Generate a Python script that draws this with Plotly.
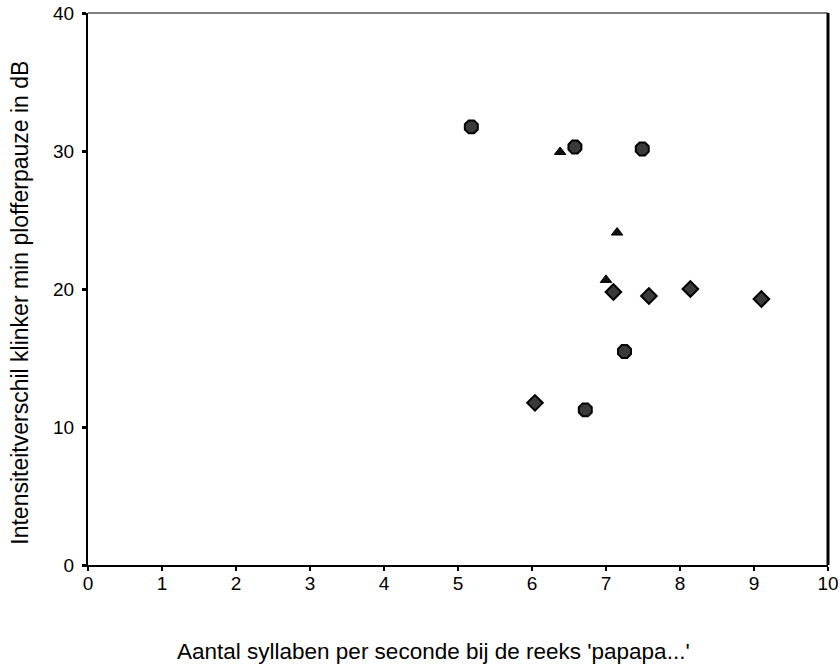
import plotly.graph_objects as go

circle_x = [5.18, 6.58, 7.49, 7.25, 6.72]
circle_y = [31.75, 30.29, 30.15, 15.47, 11.24]
tri_x = [6.38, 7.15, 7.00]
tri_y = [29.93, 24.09, 20.66]
dia_x = [7.10, 7.58, 8.14, 9.10, 6.04]
dia_y = [19.78, 19.49, 20.0, 19.27, 11.75]

x_ticks = list(range(0, 11))
y_ticks = [0, 10, 20, 30, 40]

fig = go.Figure()
fig.add_trace(go.Scatter(x=circle_x, y=circle_y, mode="markers",
                         marker=dict(symbol="octagon", size=14, color="#3a3a3a",
                                     line=dict(color="black", width=2))))
fig.add_trace(go.Scatter(x=tri_x, y=tri_y, mode="markers",
                         marker=dict(symbol="triangle-up", size=10, color="#111",
                                     line=dict(color="black", width=1))))
fig.add_trace(go.Scatter(x=dia_x, y=dia_y, mode="markers",
                         marker=dict(symbol="diamond", size=12, color="#3a3a3a",
                                     line=dict(color="black", width=2))))

font = "Liberation Sans, Arial, sans-serif"
fig.update_layout(
    width=840, height=664,
    margin=dict(l=88, r=12, t=13, b=99, autoexpand=False),
    plot_bgcolor="white", paper_bgcolor="white",
    showlegend=False,
    font=dict(family=font, size=19, color="black"),
    xaxis=dict(range=[0, 10], tickvals=x_ticks, showgrid=False, zeroline=False,
               showline=True, linecolor="black", linewidth=2,
               ticks="outside", ticklen=4, tickwidth=2, tickcolor="black",
               ticklabelstandoff=-4, tickfont=dict(size=19)),
    yaxis=dict(range=[0, 40], tickvals=y_ticks, showgrid=False, zeroline=False,
               showline=True, linecolor="black", linewidth=2,
               ticks="outside", ticklen=4, tickwidth=3, tickcolor="black",
               ticklabelstandoff=4, tickfont=dict(size=19)),
)
fig.add_shape(type="line", xref="paper", yref="paper", x0=0, x1=1, y0=1, y1=1,
              line=dict(color="black", width=1))
fig.add_shape(type="line", xref="paper", yref="paper", x0=1, x1=1, y0=0, y1=1,
              line=dict(color="black", width=3))
fig.add_annotation(text="Aantal syllaben per seconde bij de reeks 'papapa...'",
                   xref="paper", yref="paper", x=0.1176, y=-0.1576,
                   xanchor="left", yanchor="middle", showarrow=False,
                   font=dict(size=22.5))
fig.add_annotation(text="Intensiteitverschil klinker min plofferpauze in dB",
                   xref="paper", yref="paper", x=-0.092, y=0.475,
                   xanchor="center", yanchor="middle", showarrow=False,
                   textangle=-90, font=dict(size=23))

fig.write_html("out.html", config={"displayModeBar": False},
               post_script="document.body.style.margin='0';")
